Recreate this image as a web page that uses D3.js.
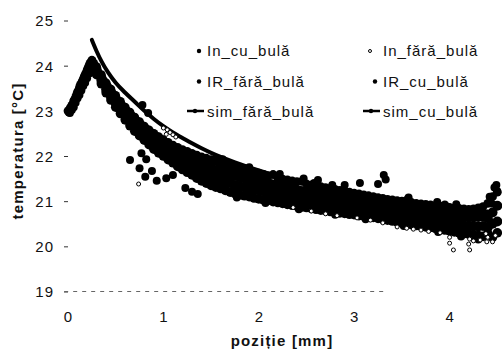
<!DOCTYPE html>
<html>
<head>
<meta charset="utf-8">
<script src="https://cdn.jsdelivr.net/npm/d3@7"></script>
<style>
  html, body { margin: 0; padding: 0; background: #fff; }
  svg { display: block; }
  text { font-family: "Liberation Sans", Arial, sans-serif; fill: #111; }
</style>
</head>
<body>
<svg id="chart" width="502" height="352"></svg>
<script>
// Temperature profile along the sample: position [mm] vs temperature [°C]
const xTicks = [0, 1, 2, 3, 4];
const yTicks = [19, 20, 21, 22, 23, 24, 25];

// Sampling positions [mm] of the cooling segment
const gridX = [
  0.30,0.35,0.40,0.45,0.50,0.55,0.60,0.65,0.70,0.75,
  0.80,0.85,0.90,0.95,1.00,1.05,1.10,1.15,1.20,1.25,
  1.30,1.35,1.40,1.45,1.50,1.55,1.60,1.65,1.70,1.75,
  1.80,1.85,1.90,1.95,2.00,2.05,2.10,2.15,2.20,2.25,
  2.30,2.35,2.40,2.45,2.50,2.55,2.60,2.65,2.70,2.75,
  2.80,2.85,2.90,2.95,3.00,3.05,3.10,3.15,3.20,3.25,
  3.30,3.35,3.40,3.45,3.50,3.55,3.60,3.65,3.70,3.75,
  3.80,3.85,3.90,3.95,4.00,4.05,4.10,4.15,4.20,4.25,
  4.30,4.35,4.40,4.45,4.50
];

// IR camera, without bubble [°C] at gridX
const irFaraBulaT = [
  23.98,23.80,23.62,23.48,23.34,23.21,23.08,22.97,22.86,22.76,
  22.66,22.58,22.50,22.43,22.36,22.30,22.24,22.19,22.14,22.10,
  22.06,22.02,21.98,21.95,21.92,21.92,21.85,21.82,21.79,21.78,
  21.72,21.69,21.66,21.64,21.62,21.59,21.56,21.59,21.52,21.49,
  21.47,21.45,21.43,21.44,21.38,21.36,21.34,21.32,21.30,21.28,
  21.26,21.24,21.22,21.20,21.18,21.16,21.14,21.12,21.10,21.08,
  21.06,21.04,21.03,21.01,21.00,21.02,20.97,20.95,20.94,20.93,
  20.92,20.90,20.89,20.92,20.86,20.85,20.84,20.83,20.82,20.83,
  20.85,20.88,20.95,21.10,21.20
];
// IR camera, without bubble: heating segment before the peak
const irFaraBulaRise = [
  [0.00,23.00],[0.01,22.97],[0.02,23.05],[0.03,23.08],[0.04,23.12],[0.05,23.15],[0.06,23.22],
  [0.07,23.25],[0.08,23.30],[0.09,23.36],[0.10,23.42],[0.11,23.45],[0.12,23.52],[0.13,23.58],
  [0.14,23.60],[0.15,23.66],[0.16,23.70],[0.17,23.76],[0.18,23.80],[0.19,23.84],[0.20,23.90],
  [0.21,23.95],[0.22,24.00],[0.23,24.05],[0.24,24.08],[0.25,24.12],[0.27,24.05]
];

// Inline sensor, with bubble [°C] at gridX
const inCuBulaT = [
  23.92,23.73,23.55,23.40,23.25,23.12,22.99,22.87,22.76,22.66,
  22.56,22.47,22.38,22.31,22.24,22.17,22.11,22.05,21.99,21.95,
  21.90,21.85,21.80,21.77,21.73,21.69,21.66,21.63,21.59,21.56,
  21.53,21.50,21.47,21.45,21.43,21.40,21.38,21.36,21.34,21.31,
  21.29,21.27,21.25,21.22,21.21,21.19,21.17,21.15,21.13,21.11,
  21.09,21.07,21.06,21.04,21.02,21.00,20.98,20.96,20.95,20.93,
  20.91,20.89,20.87,20.85,20.84,20.82,20.81,20.79,20.78,20.76,
  20.75,20.73,20.72,20.70,20.69,20.67,20.66,20.65,20.64,20.64,
  20.65,20.66,20.62,20.75,20.90
];
const inCuBulaExtra = [
  [0.02,22.95],[0.04,23.02],[0.06,23.08],[0.08,23.18],[0.10,23.28],[0.12,23.35],[0.14,23.45],
  [0.16,23.55],[0.18,23.62],[0.20,23.72],[0.22,23.82],[0.24,23.92],[0.26,24.00],
  [0.78,23.13],[0.84,22.95],
  [1.62,21.93],[1.90,21.75],[2.22,21.60],[2.47,21.50],[2.77,21.36],[3.57,21.08],[3.87,20.98],[4.07,20.93],
  [2.58,21.40],[2.62,21.47],[2.90,21.36],[3.06,21.40],[3.25,21.38],[3.31,21.58],[3.33,21.48],
  [4.42,21.10],[4.47,21.30],[4.50,21.22],[4.44,20.95],[4.49,21.36]
];

// IR camera, with bubble: two passes [°C] at gridX
const irCuBulaT1 = [
  23.86,23.67,23.47,23.32,23.17,23.03,22.89,22.77,22.65,22.55,
  22.45,22.36,22.27,22.19,22.12,22.05,21.98,21.91,21.85,21.79,
  21.74,21.68,21.63,21.58,21.54,21.50,21.47,21.43,21.40,21.36,
  21.33,21.31,21.29,21.26,21.24,21.22,21.20,21.17,21.15,21.13,
  21.11,21.09,21.07,21.05,21.03,21.01,20.99,20.97,20.96,20.94,
  20.93,20.91,20.89,20.87,20.86,20.84,20.83,20.81,20.79,20.77,
  20.75,20.73,20.72,20.70,20.68,20.66,20.64,20.62,20.61,20.60,
  20.59,20.57,20.55,20.53,20.51,20.50,20.48,20.46,20.45,20.44,
  20.44,20.45,20.42,20.50,20.55
];
const irCuBulaT2 = [
  23.80,23.60,23.40,23.24,23.08,22.94,22.80,22.67,22.55,22.45,
  22.35,22.25,22.15,22.07,22.00,21.92,21.85,21.77,21.70,21.64,
  21.58,21.51,21.45,21.40,21.35,21.31,21.28,21.24,21.20,21.17,
  21.14,21.12,21.10,21.07,21.05,21.03,21.02,20.99,20.97,20.95,
  20.93,20.91,20.89,20.87,20.86,20.84,20.82,20.80,20.79,20.77,
  20.76,20.74,20.73,20.71,20.70,20.68,20.67,20.65,20.64,20.62,
  20.60,20.58,20.56,20.54,20.52,20.50,20.48,20.46,20.45,20.43,
  20.42,20.40,20.38,20.36,20.34,20.32,20.30,20.28,20.27,20.25,
  20.24,20.22,20.28,20.20,20.30
];
const irCuBulaExtra = [
  [0.65,21.91],[0.77,22.06],[0.82,21.93],[0.75,21.73],[0.88,21.67],[0.81,21.54],[0.93,21.45],
  [1.03,21.51],[1.10,21.58],[1.23,21.29],[1.30,21.21],[1.36,21.16],
  [1.77,21.08],[2.07,20.96],[2.42,20.82],[2.80,20.70],[3.12,20.60],[3.52,20.45],[3.88,20.32],
  [4.12,20.22],[4.30,20.15]
];

// Inline sensor, without bubble (open markers)
const inFaraBula = [
  [1.00,22.62],[1.04,22.58],[1.07,22.52],[1.10,22.47],[1.13,22.42],[1.03,22.48],[0.74,21.38],
  [2.36,20.86],[2.55,20.78],[2.70,20.72],[2.82,20.68],[3.03,20.63],[3.17,20.58],[3.30,20.52],
  [3.45,20.43],[3.55,20.40],[3.62,20.38],[3.70,20.36],[3.78,20.33],[3.90,20.30],[4.00,20.20],
  [4.00,20.07],[4.04,19.92],[4.20,20.05],[4.21,20.16],[4.21,19.92],[4.25,20.12],[4.32,20.14],
  [4.39,20.10],[4.40,20.20],[4.45,20.10],[4.38,20.28],[4.48,20.24]
];

// Simulated profiles
const simFaraBula = [
  [0.25,24.57],[0.30,24.32],[0.35,24.10],[0.42,23.85],[0.50,23.62],[0.60,23.40],[0.70,23.20],
  [0.80,23.00],[0.90,22.82],[1.00,22.66],[1.10,22.52],[1.20,22.40],[1.30,22.28],[1.40,22.17],
  [1.50,22.07],[1.75,21.86],[2.00,21.68],[2.25,21.52],[2.50,21.39],[2.75,21.27],[3.00,21.17],
  [3.25,21.08],[3.50,21.00],[3.75,20.93],[4.00,20.86],[4.25,20.80],[4.40,20.77]
];
const simCuBula = [
  [0.27,24.15],[0.33,23.90],[0.40,23.68],[0.50,23.38],[0.60,23.12],[0.70,22.90],[0.80,22.70],
  [0.90,22.54],[1.00,22.40],[1.12,22.24],[1.25,22.10],[1.50,21.87],[1.75,21.68],[2.00,21.52],
  [2.25,21.38],[2.50,21.26],[2.75,21.16],[3.00,21.07],[3.25,20.99],[3.50,20.92],[3.75,20.85],
  [4.00,20.79],[4.25,20.73],[4.40,20.70]
];

const legendItems = [
  { name: "In_cu_bulă",    kind: "dot"  },
  { name: "In_fără_bulă",  kind: "ring" },
  { name: "IR_fără_bulă",  kind: "dot"  },
  { name: "IR_cu_bulă",    kind: "dot"  },
  { name: "sim_fără_bulă", kind: "line" },
  { name: "sim_cu_bulă",   kind: "line" }
];

const pair = temps => gridX.map((p, i) => [p, temps[i]]);

const svg = d3.select("#chart");
const x = d3.scaleLinear().domain([0, 4.5]).range([68, 497.3]);
const y = d3.scaleLinear().domain([19, 25]).range([291.5, 20.5]);

// y axis: short outside ticks, no spine
const yAxis = svg.append("g").attr("transform", "translate(68,0)")
  .call(d3.axisLeft(y).tickValues(yTicks).tickSize(4).tickPadding(10).tickFormat(d3.format("d")));
yAxis.select(".domain").remove();
yAxis.selectAll(".tick line").attr("stroke", "#333").attr("stroke-width", 1);
yAxis.selectAll(".tick text")
  .style("font-size", "15px").style("letter-spacing", "1px")
  .attr("fill", "#111").attr("dy", "0.36em");

// x axis: labels only
const xAxis = svg.append("g").attr("transform", `translate(0,${y(19)})`)
  .call(d3.axisBottom(x).tickValues(xTicks).tickSize(0).tickPadding(20).tickFormat(d3.format("d")));
xAxis.select(".domain").remove();
xAxis.selectAll(".tick text")
  .style("font-size", "15px").style("letter-spacing", "1px").attr("fill", "#111");

// faint dashed baseline at 19 °C
svg.append("line")
  .attr("x1", x(-0.04)).attr("x2", x(3.35))
  .attr("y1", y(19)).attr("y2", y(19))
  .attr("stroke", "#666").attr("stroke-width", 1)
  .attr("stroke-dasharray", "4,5");

// axis titles
svg.append("text")
  .attr("transform", "translate(23,151) rotate(-90)")
  .attr("text-anchor", "middle")
  .style("font-size", "15px").style("font-weight", "bold").style("letter-spacing", "1.2px")
  .text("temperatura [°C]");
svg.append("text")
  .attr("x", 282).attr("y", 346)
  .attr("text-anchor", "middle")
  .style("font-size", "15px").style("font-weight", "bold").style("letter-spacing", "1.2px")
  .text("poziție [mm]");

// measured points (dense runs are drawn with slightly larger blobs)
const plot = svg.append("g");
function dots(data, r) {
  plot.append("g").selectAll("circle").data(data).join("circle")
    .attr("cx", d => x(d[0])).attr("cy", d => y(d[1]))
    .attr("r", r).attr("fill", "#000");
}
dots(irFaraBulaRise, 4.4);
dots(pair(irFaraBulaT), 4.4);
dots(pair(inCuBulaT), 5);
dots(inCuBulaExtra, 4);
dots(pair(irCuBulaT1), 5);
dots(pair(irCuBulaT2), 4.8);
dots(irCuBulaExtra, 4);

// simulated curves
const line = d3.line().x(d => x(d[0])).y(d => y(d[1])).curve(d3.curveMonotoneX);
[simFaraBula, simCuBula].forEach(s => {
  plot.append("path").datum(s).attr("d", line)
    .attr("fill", "none").attr("stroke", "#000").attr("stroke-width", 4)
    .attr("stroke-linecap", "round");
});

// open markers on top
plot.append("g").selectAll("circle").data(inFaraBula).join("circle")
  .attr("cx", d => x(d[0])).attr("cy", d => y(d[1]))
  .attr("r", 2).attr("fill", "#fff").attr("stroke", "#000").attr("stroke-width", 1);

// legend: 3 rows x 2 columns
const legend = svg.append("g");
legendItems.forEach((item, i) => {
  const col = i % 2, row = Math.floor(i / 2);
  const tx = col === 0 ? 207 : 383;
  const base = 56 + row * 30.5;
  const g = legend.append("g");
  if (item.kind === "dot") {
    g.append("circle").attr("cx", tx - 8).attr("cy", base - 5).attr("r", 2.2).attr("fill", "#000");
  } else if (item.kind === "ring") {
    g.append("circle").attr("cx", tx - 13).attr("cy", base - 5).attr("r", 1.5)
      .attr("fill", "#fff").attr("stroke", "#000").attr("stroke-width", 1);
  } else {
    g.append("line").attr("x1", tx - 20).attr("x2", tx - 3)
      .attr("y1", base - 6).attr("y2", base - 6)
      .attr("stroke", "#000").attr("stroke-width", 2.5);
    g.append("circle").attr("cx", tx - 12).attr("cy", base - 6).attr("r", 2.2).attr("fill", "#000");
  }
  g.append("text").attr("x", tx).attr("y", base)
    .style("font-size", "15px").style("letter-spacing", "1px")
    .text(item.name);
});
</script>
</body>
</html>
